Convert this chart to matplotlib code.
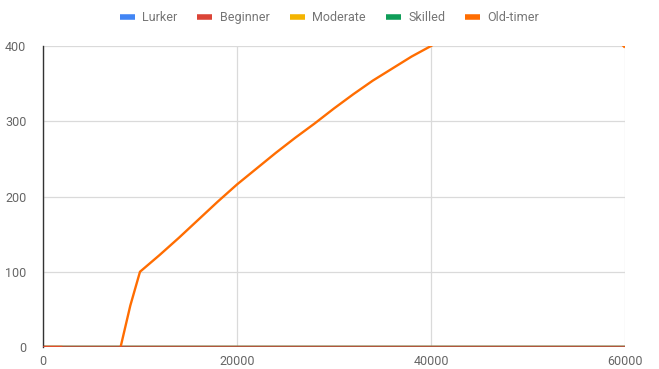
import matplotlib.pyplot as plt
import numpy as np

plt.rcParams['font.family'] = ['Roboto', 'DejaVu Sans']

x = [0, 2000, 4000, 6000, 8000, 9000, 10000, 12000, 14000, 16000, 18000,
     20000, 22000, 24000, 26000, 28000, 30000, 32000, 34000, 36000, 38000,
     40000, 45000, 50000, 55000, 60000]
zeros = [0] * len(x)
lurker = zeros
beginner = zeros
moderate = zeros
skilled = zeros
old_timer = [0, 0, np.nan, np.nan, 0, 55, 100, 122, 145, 169, 193,
             216, 237, 258, 278, 297, 317, 336, 354, 370, 386,
             400, 440, 470, 460, 398]

series = [("Lurker", lurker, "#4285f4"),
          ("Beginner", beginner, "#db4437"),
          ("Moderate", moderate, "#f4b400"),
          ("Skilled", skilled, "#0f9d58"),
          ("Old-timer", old_timer, "#ff6d01")]

fig = plt.figure(figsize=(6.59, 3.69), dpi=100)
ax = fig.add_axes([43 / 659, 22 / 369, 582 / 659, 301 / 369])

for name, y, c in series:
    ax.plot(x, y, color=c, lw=1.7, label=name, solid_capstyle="butt")
# beginner line sits on top along the baseline
ax.plot(x, beginner, color="#db4437", lw=1.6, zorder=3, alpha=0.8)

ax.set_xlim(0, 60000)
ax.set_ylim(0, 400)
ax.set_xticks([0, 20000, 40000, 60000])
ax.set_yticks([0, 100, 200, 300, 400])
ax.grid(True, color="#dadada", lw=0.9)
ax.set_axisbelow(True)
for s in ["top", "right", "bottom"]:
    ax.spines[s].set_visible(False)
ax.spines["left"].set_color("#333333")
ax.spines["left"].set_linewidth(1)
ax.tick_params(length=0, labelsize=9, colors="#666666", pad=6)
ax.tick_params(axis="y", pad=12)

handles, labels = ax.get_legend_handles_labels()
fig.legend(handles, labels, loc="upper center", bbox_to_anchor=(0.5, 1.0),
           ncol=5, frameon=False, fontsize=9, labelcolor="#757575",
           handlelength=1.2, handletextpad=0.6, columnspacing=1.6)
for h in fig.legends[0].get_lines():
    h.set_linewidth(4)

fig.savefig("out.png", dpi=100)
